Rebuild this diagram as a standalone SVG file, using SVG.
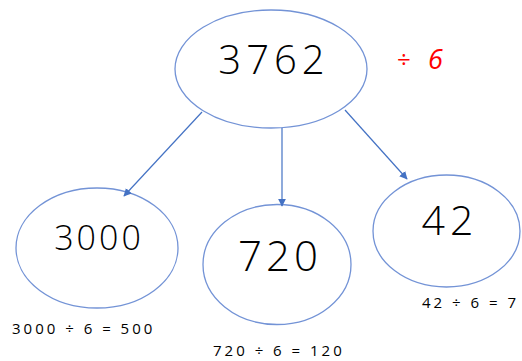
<svg xmlns="http://www.w3.org/2000/svg" width="522" height="361" viewBox="0 0 522 361">
<defs>
<marker id="ah" viewBox="0 0 10 10" refX="9" refY="5" markerWidth="8" markerHeight="8" markerUnits="userSpaceOnUse" orient="auto">
<path d="M0,0 L10,5 L0,10 z" fill="#4472C4"/>
</marker>
<style>
.node ellipse{fill:#fff;stroke:#7393d6;stroke-width:1.3}
.num{font-family:"Open Sans","DejaVu Sans",sans-serif;font-weight:300;fill:#000;text-anchor:middle}
.eq{font-family:"Open Sans","DejaVu Sans",sans-serif;font-size:15px;fill:#000;letter-spacing:3px}
.conn line{stroke:#4472C4;stroke-width:1.2;marker-end:url(#ah)}
.red{font-family:"Open Sans","DejaVu Sans",sans-serif;fill:#ff0000}
</style>
</defs>
<rect width="522" height="361" fill="#fff"/>
<g id="n-top" class="node">
<ellipse cx="271" cy="69" rx="96" ry="59"/>
<text class="num" x="274" y="74" font-size="40" letter-spacing="5">3762</text>
</g>
<g id="op">
<text class="red" x="397" y="68" font-size="24">÷</text>
<text class="red" x="428" y="69" font-size="27" font-style="italic">6</text>
</g>
<g id="n-3000" class="node">
<ellipse cx="97" cy="248" rx="81" ry="60"/>
<text class="num" x="99" y="250" font-size="34" letter-spacing="3">3000</text>
</g>
<g id="n-720" class="node">
<ellipse cx="277" cy="264.5" rx="74" ry="60"/>
<text class="num" x="280" y="271" font-size="42" letter-spacing="4">720</text>
</g>
<g id="n-42" class="node">
<ellipse cx="446.5" cy="231" rx="73.5" ry="56"/>
<text class="num" x="450" y="235" font-size="41" letter-spacing="5">42</text>
</g>
<g id="connectors" class="conn">
<line x1="202" y1="112" x2="124" y2="196"/>
<line x1="282" y1="128" x2="282" y2="206"/>
<line x1="345" y1="110" x2="407" y2="179"/>
</g>
<text class="eq" x="12" y="334">3000 ÷ 6 = 500</text>
<text class="eq" x="213" y="356">720 ÷ 6 = 120</text>
<text class="eq" x="422" y="308">42 ÷ 6 = 7</text>
</svg>
